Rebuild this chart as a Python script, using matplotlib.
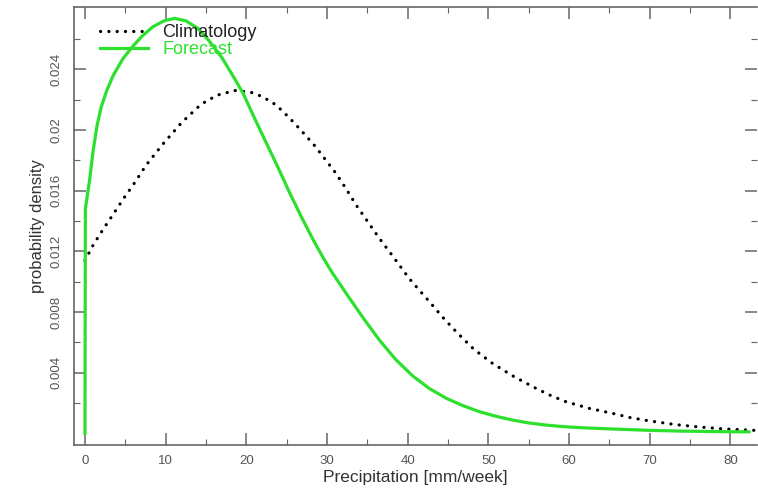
import matplotlib
matplotlib.use("Agg")
import matplotlib.pyplot as plt
from matplotlib.ticker import FixedLocator, FixedFormatter

plt.rcParams['font.family'] = ['Liberation Sans', 'DejaVu Sans']

# Climatology (x in mm/week, density x 1000)
clim_x = [0, 1, 2, 3, 4, 5, 6, 7.6, 9.7, 12, 14.4, 16.4, 18.6, 20.5, 22, 23.7,
          25.4, 27.0, 28.5, 29.8, 31.1, 32.4, 33.6, 34.9, 36.5, 38.2, 40.2,
          42.5, 44.6, 46.2, 48.2, 50.5, 53, 55.5, 57.5, 59.6, 62.5, 65.4, 67.5,
          70, 73.2, 76, 79, 83]
clim_y = [11.4, 12.4, 13.25, 14.05, 14.85, 15.65, 16.4, 17.7, 19.1, 20.5, 21.7,
          22.3, 22.6, 22.5, 22.2, 21.65, 20.77, 19.85, 18.95, 18.05, 17.15,
          16.1, 15.06, 14.07, 12.85, 11.65, 10.2, 8.8, 7.5, 6.6, 5.55, 4.62,
          3.8, 3.08, 2.55, 2.09, 1.65, 1.32, 1.05, 0.82, 0.58, 0.43, 0.3, 0.2]
clim_y = [v / 1000 for v in clim_y]

# Forecast (density x 1000)
fc_x = [0, 0.05, 0.3, 0.6, 1.0, 1.5, 2.0, 2.7, 3.5, 4.7, 5.9, 7.1, 8.4, 9.8,
        11.1, 12.5, 14.0, 15.3, 16.9, 18.2, 19.6, 21.0, 22.5, 24.0, 25.4, 26.8,
        28.3, 29.5, 30.7, 32.8, 34.7, 36.5, 38.5, 40.6, 42.7, 44.8, 46.8, 48.9,
        51.0, 53.0, 55.0, 57.1, 59.2, 61.3, 65.4, 70.0, 74.0, 78.0, 82.3]
fc_y = [0, 14.8, 15.7, 16.8, 18.6, 20.3, 21.5, 22.6, 23.6, 24.7, 25.5, 26.2,
        26.8, 27.2, 27.36, 27.2, 26.7, 25.93, 24.83, 23.7, 22.42, 20.8, 19.12,
        17.45, 15.83, 14.3, 12.75, 11.6, 10.55, 8.9, 7.45, 6.15, 4.88, 3.8,
        2.95, 2.31, 1.84, 1.43, 1.12, 0.88, 0.69, 0.55, 0.45, 0.38, 0.29, 0.2,
        0.15, 0.12, 0.1]
fc_y = [v / 1000 for v in fc_y]

xticks = [0, 10, 20, 30, 40, 50, 60, 70, 80]
xminor = [5, 15, 25, 35, 45, 55, 65, 75]
yticks = [0.004, 0.008, 0.012, 0.016, 0.020, 0.024]
ytick_labels = ['0.004', '0.008', '0.012', '0.016', '0.02', '0.024']
yminor = [0.002, 0.006, 0.010, 0.014, 0.018, 0.022, 0.026]

green = '#2ee02e'
gray = '#666666'

fig = plt.figure(figsize=(7.58, 4.94), dpi=100)
ax = fig.add_axes([74/758, 1 - 445/494, (757 - 74)/758, (445 - 7)/494])

ax.plot(clim_x, clim_y, color='black', lw=2.3, linestyle=(0, (0.05, 2.55)),
        dash_capstyle='round', label='Climatology')
ax.plot(fc_x, fc_y, color=green, lw=2.3, label='Forecast')

ax.set_xlim(-1.36, 83.3)
ax.set_ylim(-0.000765, 0.02811)

ax.xaxis.set_major_locator(FixedLocator(xticks))
ax.xaxis.set_minor_locator(FixedLocator(xminor))
ax.yaxis.set_major_locator(FixedLocator(yticks))
ax.yaxis.set_major_formatter(FixedFormatter(ytick_labels))
ax.yaxis.set_minor_locator(FixedLocator(yminor))

ax.tick_params(which='both', direction='in', top=True, right=True, color=gray,
               labelcolor='#555555', labelsize=9.5)
ax.tick_params(which='major', length=8.5, width=1.1)
ax.tick_params(which='minor', length=4.5, width=0.8)
ax.tick_params(axis='x', pad=7)
ax.tick_params(axis='y', pad=8)
for lab in ax.get_yticklabels():
    lab.set_rotation(90)
    lab.set_va('center')

for s in ax.spines.values():
    s.set_color(gray)
    s.set_linewidth(1.2)
ax.spines['right'].set_visible(False)

ax.set_xlabel('Precipitation [mm/week]', fontsize=12.5, color='#333333', labelpad=2)
ax.set_ylabel('probability density', fontsize=12, color='#333333', labelpad=4)

ax.legend(loc='upper left', bbox_to_anchor=(0.0275, 0.9774), frameon=False,
          fontsize=13, handlelength=2.66, handletextpad=0.78, labelspacing=0.0,
          labelcolor=['#222222', green], borderaxespad=0)

fig.savefig('out.png', dpi=100)
